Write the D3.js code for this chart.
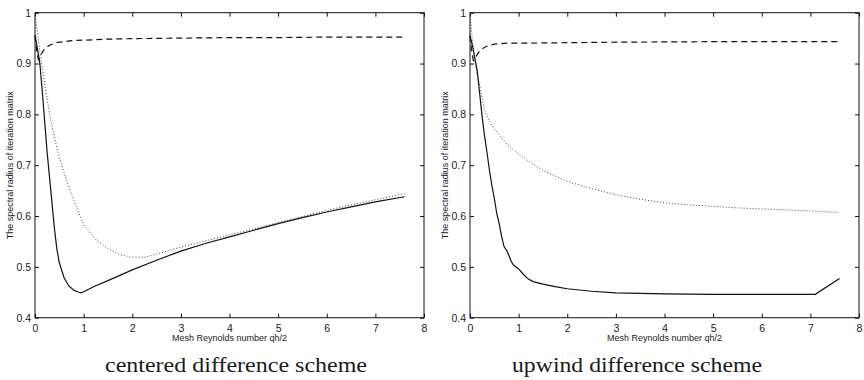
<!DOCTYPE html>
<html>
<head>
<meta charset="utf-8">
<script src="https://cdn.jsdelivr.net/npm/d3@7"></script>
<style>
  body { margin: 0; background: #fff; }
  svg text { font-family: "Liberation Sans", Arial, sans-serif; fill: #1a1a1a; }
  .caption { font-family: "Liberation Serif", "DejaVu Serif", serif; }
</style>
</head>
<body>
<svg id="chart"></svg>
<script>
// Data
const xTicks = [0, 1, 2, 3, 4, 5, 6, 7, 8];
const yTicks = [0.4, 0.5, 0.6, 0.7, 0.8, 0.9, 1];
const yTickLabels = ['0.4', '0.5', '0.6', '0.7', '0.8', '0.9', '1'];

// centered difference scheme
const cSolidX = [0, 0.05, 0.1, 0.15, 0.2, 0.25, 0.3, 0.35, 0.4, 0.45, 0.5, 0.6, 0.7, 0.8, 0.9, 0.95, 1.0, 1.25, 1.5, 2, 2.5, 3, 3.5, 4, 4.5, 5, 5.5, 6, 6.5, 7, 7.6];
const cSolidY = [0.955, 0.93, 0.9, 0.845, 0.785, 0.725, 0.675, 0.625, 0.575, 0.535, 0.508, 0.478, 0.462, 0.454, 0.45, 0.449, 0.451, 0.463, 0.473, 0.494, 0.513, 0.531, 0.546, 0.559, 0.572, 0.585, 0.597, 0.608, 0.618, 0.628, 0.638];
const cDotX = [0, 0.05, 0.1, 0.2, 0.3, 0.4, 0.5, 0.65, 0.8, 1.0, 1.25, 1.5, 1.75, 2.0, 2.25, 2.5, 2.75, 3, 3.5, 4, 4.5, 5, 5.5, 6, 6.5, 7, 7.6];
const cDotY = [1.0, 0.96, 0.925, 0.86, 0.8, 0.755, 0.715, 0.67, 0.63, 0.583, 0.554, 0.536, 0.524, 0.519, 0.519, 0.525, 0.532, 0.539, 0.551, 0.563, 0.575, 0.587, 0.599, 0.611, 0.622, 0.632, 0.644];
const cDashX = [0, 0.04, 0.07, 0.1, 0.15, 0.2, 0.3, 0.4, 0.5, 0.75, 1, 1.5, 2, 3, 4, 5, 6, 7, 7.6];
const cDashY = [0.955, 0.92, 0.908, 0.912, 0.922, 0.929, 0.936, 0.94, 0.942, 0.945, 0.946, 0.948, 0.949, 0.95, 0.951, 0.951, 0.952, 0.952, 0.952];

// upwind difference scheme
const uSolidX = [0, 0.05, 0.1, 0.15, 0.2, 0.25, 0.3, 0.35, 0.4, 0.45, 0.5, 0.55, 0.6, 0.65, 0.7, 0.75, 0.8, 0.85, 0.9, 1.0, 1.1, 1.2, 1.3, 1.5, 1.75, 2, 2.5, 3, 3.5, 4, 5, 6, 7.1, 7.6];
const uSolidY = [0.955, 0.935, 0.91, 0.885, 0.84, 0.795, 0.757, 0.725, 0.69, 0.66, 0.635, 0.605, 0.585, 0.56, 0.54, 0.533, 0.523, 0.51, 0.503, 0.496, 0.485, 0.476, 0.471, 0.466, 0.461, 0.457, 0.452, 0.449, 0.448, 0.447, 0.446, 0.446, 0.446, 0.477];
const uDotX = [0, 0.05, 0.1, 0.15, 0.2, 0.3, 0.4, 0.5, 0.75, 1, 1.25, 1.5, 2, 2.5, 3, 3.5, 4, 4.5, 5, 5.5, 6, 6.5, 7, 7.6];
const uDotY = [1.0, 0.945, 0.905, 0.878, 0.857, 0.808, 0.786, 0.772, 0.742, 0.722, 0.705, 0.69, 0.668, 0.654, 0.642, 0.633, 0.626, 0.622, 0.619, 0.616, 0.614, 0.612, 0.61, 0.607];
const uDashX = [0, 0.04, 0.07, 0.1, 0.15, 0.2, 0.3, 0.4, 0.5, 0.75, 1, 2, 3, 5, 7.6];
const uDashY = [0.955, 0.92, 0.906, 0.91, 0.918, 0.925, 0.932, 0.936, 0.938, 0.94, 0.94, 0.941, 0.942, 0.943, 0.943];

const xLabel = 'Mesh Reynolds number qh/2';
const yLabel = 'The spectral radius of iteration matrix';

let width = 864;
let height = 380;

let svg = d3.select('#chart')
    .attr('width', width)
    .attr('height', height);

let zip = (xs, ys) => xs.map((x, i) => [x, ys[i]]);

let drawPanel = (left, right, caption, capX, capW, series) => {
    let top = 12.7, bottom = 317.7;
    let xScale = d3.scaleLinear().domain([0, 8]).range([left, right]);
    let yScale = d3.scaleLinear().domain([0.4, 1]).range([bottom, top]);

    let g = svg.append('g');

    // box
    g.append('rect')
        .attr('x', left).attr('y', top)
        .attr('width', right - left).attr('height', bottom - top)
        .attr('fill', 'none').attr('stroke', '#111').attr('stroke-width', 1);

    // axes with inward ticks (matlab style)
    let xAxis = d3.axisBottom(xScale).tickValues(xTicks).tickSize(-4).tickPadding(7).tickFormat(d3.format('d'));
    let yAxis = d3.axisLeft(yScale).tickValues(yTicks).tickSize(-4).tickPadding(4)
        .tickFormat((d, i) => yTickLabels[i]);

    let gx = g.append('g').attr('transform', 'translate(0,' + bottom + ')').call(xAxis);
    let gy = g.append('g').attr('transform', 'translate(' + left + ',0)').call(yAxis);
    let gx2 = g.append('g').attr('transform', 'translate(0,' + top + ')')
        .call(d3.axisTop(xScale).tickValues(xTicks).tickSize(-4).tickFormat(''));
    let gy2 = g.append('g').attr('transform', 'translate(' + right + ',0)')
        .call(d3.axisRight(yScale).tickValues(yTicks).tickSize(-4).tickFormat(''));

    [gx, gy, gx2, gy2].forEach(a => {
        a.select('.domain').remove();
        a.selectAll('line').attr('stroke', '#111');
        a.selectAll('text').style('font-size', '10.5px').attr('fill', '#1a1a1a');
    });

    // lines
    let line = d3.line().x(d => xScale(d[0])).y(d => yScale(d[1]));
    series.forEach(s => {
        g.append('path')
            .datum(zip(s.x, s.y))
            .attr('d', line)
            .attr('fill', 'none')
            .attr('stroke', s.color)
            .attr('stroke-width', s.w)
            .attr('stroke-dasharray', s.dash);
    });

    // labels
    g.append('text')
        .attr('x', (left + right) / 2)
        .attr('y', 341)
        .attr('text-anchor', 'middle')
        .style('font-size', '9px')
        .text(xLabel);

    g.append('text')
        .attr('transform', 'translate(' + (left - 22) + ',' + ((top + bottom) / 2) + ') rotate(-90)')
        .attr('text-anchor', 'middle')
        .style('font-size', '9px')
        .text(yLabel);

    g.append('text')
        .attr('class', 'caption')
        .attr('x', capX)
        .attr('y', 372)
        .attr('textLength', capW)
        .attr('lengthAdjust', 'spacingAndGlyphs')
        .style('font-size', '21px')
        .text(caption);
};

drawPanel(35, 424, 'centered difference scheme', 105, 262, [
    {x: cDotX, y: cDotY, color: '#444', w: 1, dash: '1,2'},
    {x: cDashX, y: cDashY, color: '#111', w: 1.2, dash: '6,4'},
    {x: cSolidX, y: cSolidY, color: '#111', w: 1.2, dash: null}
]);

drawPanel(470, 859, 'upwind difference scheme', 512, 250, [
    {x: uDotX, y: uDotY, color: '#444', w: 1, dash: '1,2'},
    {x: uDashX, y: uDashY, color: '#111', w: 1.2, dash: '6,4'},
    {x: uSolidX, y: uSolidY, color: '#111', w: 1.2, dash: null}
]);
</script>
</body>
</html>
